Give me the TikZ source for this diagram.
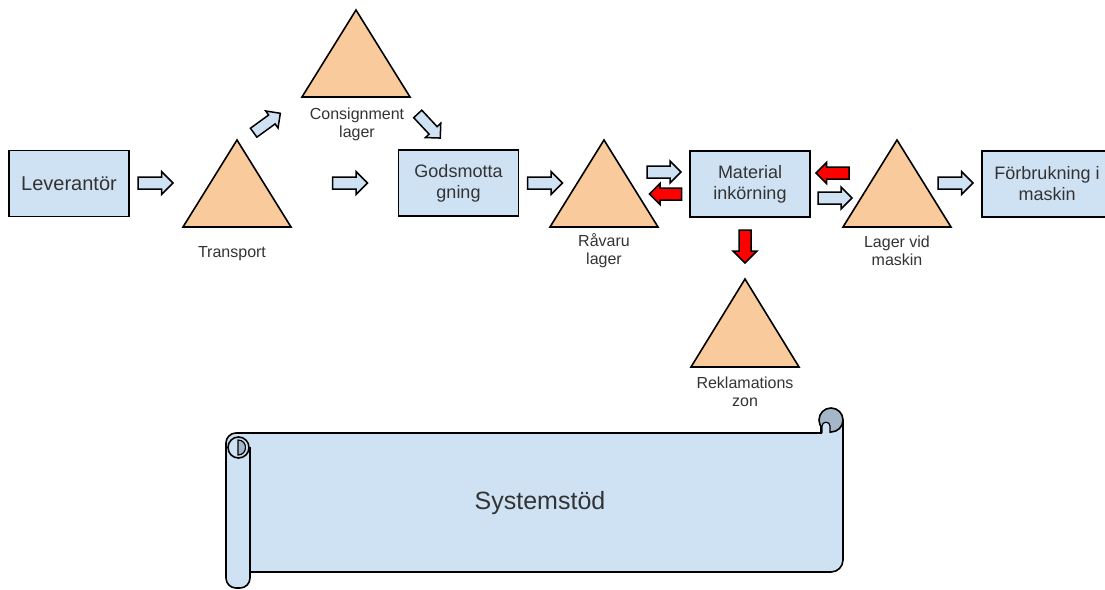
\documentclass[tikz,border=0pt]{standalone}
\usepackage{fontspec}
\setmainfont{Liberation Sans}
\definecolor{boxblue}{HTML}{CFE2F3}
\definecolor{triorange}{HTML}{F9CB9C}
\definecolor{curl}{HTML}{A5B6C8}
\definecolor{txt}{HTML}{333333}
\begin{document}
\begin{tikzpicture}[x=1pt,y=-1pt,
 box/.style={draw=black, line width=1.6pt, fill=boxblue, minimum width=120pt, minimum height=66pt, align=center, inner sep=0pt, text=txt, font=\fontsize{18}{21}\selectfont},
 tri/.style={draw=black, line width=1.6pt, fill=triorange, line join=miter},
 lbl/.style={align=center, text=txt, font=\fontsize{16}{18}\selectfont, inner sep=0pt},
 pics/blockarr/.style n args={3}{code={
   \draw[pic actions] ({-0.5*#1pt},{-0.5*#3pt}) -- ({0.5*#1pt-0.5*#2pt},{-0.5*#3pt}) -- ({0.5*#1pt-0.5*#2pt},{-0.5*#2pt}) -- ({0.5*#1pt},0pt) -- ({0.5*#1pt-0.5*#2pt},{0.5*#2pt}) -- ({0.5*#1pt-0.5*#2pt},{0.5*#3pt}) -- ({-0.5*#1pt},{0.5*#3pt}) -- cycle;}},
 barrow/.style={draw=black, line width=1.5pt, fill=boxblue, line join=miter},
 rarrow/.style={draw=black, line width=1.5pt, fill=red, line join=miter},
 scroll/.style={draw=black, line width=1.6pt, fill=boxblue},
]
\useasboundingbox (0,0) rectangle (1105,589);
\clip (0,0) rectangle (1105,589);

% triangles
\draw[tri] (237,140) -- (291,227) -- (183,227) -- cycle;
\draw[tri] (356,10) -- (410,97) -- (302,97) -- cycle;
\draw[tri] (604,140) -- (658,227) -- (550,227) -- cycle;
\draw[tri] (745,279) -- (799,367) -- (691,367) -- cycle;
\draw[tri] (897,140) -- (951,227) -- (843,227) -- cycle;

% triangle labels
\node[lbl] (transport) at (232,254) {Transport};
\node[lbl] (consign) at (357,124) {Consignment\\lager};
\node[lbl] (ravaru) at (604,251) {Råvaru\\lager};
\node[lbl] (reklam) at (745,392) {Reklamations\\zon};
\node[lbl] (lager) at (897,251) {Lager vid\\maskin};

% boxes
\node[box, font=\fontsize{20}{22}\selectfont] (lev) at (69,183.5) {Leverantör};
\node[box] (gods) at (458.5,183) {Godsmotta\\gning};
\node[box] (mat) at (750,184) {Material\\inkörning};
\node[box, minimum width=130pt] (forb) at (1047,184) {Förbrukning i\\maskin};

% block arrows
\pic[barrow] (a1) at (155.5,183) {blockarr={35}{23}{12}};
\pic[barrow, rotate=36] (a2) at (267,123) {blockarr={33}{21}{11}};
\pic[barrow, rotate=-47] (a3) at (429,126) {blockarr={33}{21}{11}};
\pic[barrow] (a4) at (350,183) {blockarr={35}{23}{12}};
\pic[barrow] (a5) at (545,183) {blockarr={35}{23}{12}};
\pic[barrow] (a6) at (664,172) {blockarr={34}{22}{12}};
\pic[rarrow, rotate=180] (a7) at (665.5,194) {blockarr={32}{21}{12}};
\pic[rarrow, rotate=180] (a8) at (832.5,173) {blockarr={33}{21}{12}};
\pic[barrow] (a9) at (835,198) {blockarr={34}{22}{12}};
\pic[rarrow, rotate=-90] (a10) at (745,246.5) {blockarr={33}{24}{12}};
\pic[barrow] (a11) at (955.5,183) {blockarr={35}{23}{12}};

% scroll
\draw[scroll] (238,433) -- (821,433) -- (821,420) -- (843,420) [rounded corners=12pt] -- (843,572) -- (238,572) [sharp corners] -- cycle;
\draw[scroll, fill=curl] (831,420) circle (12pt);
\filldraw[fill=boxblue, draw=black, line width=1.2pt] (822,433) -- (822,426) .. controls (822,421) and (830,421) .. (830,426) -- (830,433);
\draw[scroll, rounded corners=10pt] (250,447) -- (250,588) -- (226,588) -- (226,433) -- (250,433);
\draw[scroll] (238.5,447.5) circle (10.5pt);
\filldraw[fill=curl, draw=black, line width=1.2pt] (238,440) .. controls (248,440) and (248,455) .. (238,455) -- cycle;
\node[font=\fontsize{25}{30}\selectfont, text=txt] (sys) at (540,503) {Systemstöd};
\end{tikzpicture}
\end{document}
